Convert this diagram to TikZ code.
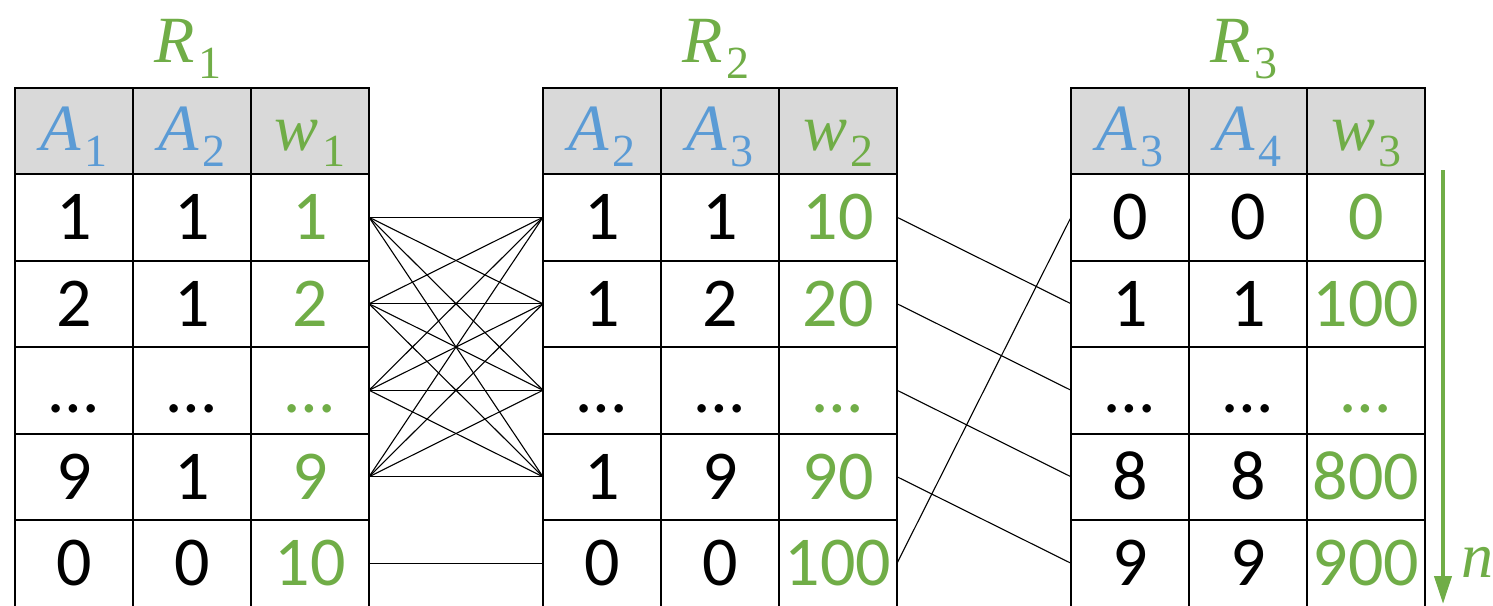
\documentclass[tikz,border=0pt]{standalone}
\usepackage{fontspec}
\setmainfont{Carlito}
\newfontfamily\symfont{Liberation Serif}
\usetikzlibrary{arrows.meta}
\definecolor{attrblue}{HTML}{5B9BD5}
\definecolor{wgreen}{HTML}{70AD47}
\definecolor{headgray}{HTML}{D9D9D9}
% italic symbol with an upright subscript
\newcommand\symb[2]{{\fontsize{66}{66}\selectfont\symfont\itshape #1}\hspace{3pt}\raisebox{-16pt}{\fontsize{46}{46}\selectfont\symfont #2}}
\tikzset{
  cell/.style={draw, line width=2pt, minimum width=118pt, minimum height=86.5pt,
    inner sep=0pt, outer sep=0pt, text height=45pt, text depth=0pt,
    font=\fontsize{70}{70}\selectfont},
  headcell/.style={cell, fill=headgray, minimum height=86pt, text height=38pt},
  wcell/.style={cell, text=wgreen},
  title/.style={text=wgreen, anchor=base, inner sep=0pt},
  link/.style={line width=1.1pt},
  order/.style={wgreen, line width=4pt, -{Triangle[length=28pt,width=17pt]}}
}
\begin{document}
\begin{tikzpicture}[x=1pt, y=-1pt]
\useasboundingbox (0,0) rectangle (1493,605);
\clip (0,0) rectangle (1493,605);

% relation titles
\node[title] (R1) at (188,62) {\symb{R}{1}};
\node[title] (R2) at (716,62) {\symb{R}{2}};
\node[title] (R3) at (1244,62) {\symb{R}{3}};

% header rows
\node[headcell] (T1-0-1) at (74,131)   {\color{attrblue}\symb{A}{1}};
\node[headcell] (T1-0-2) at (192,131)  {\color{attrblue}\symb{A}{2}};
\node[headcell] (T1-0-3) at (310,131)  {\color{wgreen}\symb{w}{1}};
\node[headcell] (T2-0-1) at (602,131)  {\color{attrblue}\symb{A}{2}};
\node[headcell] (T2-0-2) at (720,131)  {\color{attrblue}\symb{A}{3}};
\node[headcell] (T2-0-3) at (838,131)  {\color{wgreen}\symb{w}{2}};
\node[headcell] (T3-0-1) at (1130,131) {\color{attrblue}\symb{A}{3}};
\node[headcell] (T3-0-2) at (1248,131) {\color{attrblue}\symb{A}{4}};
\node[headcell] (T3-0-3) at (1366,131) {\color{wgreen}\symb{w}{3}};

% data rows of R1
\foreach \r/\y/\a/\b/\w in {1/217.25/1/1/1, 2/303.75/2/1/2, 3/390.25/…/…/…, 4/476.75/9/1/9, 5/563.25/0/0/10}{
  \node[cell]  (T1-\r-1) at (74,\y)  {\a};
  \node[cell]  (T1-\r-2) at (192,\y) {\b};
  \node[wcell] (T1-\r-3) at (310,\y) {\w};
}
% data rows of R2
\foreach \r/\y/\a/\b/\w in {1/217.25/1/1/10, 2/303.75/1/2/20, 3/390.25/…/…/…, 4/476.75/1/9/90, 5/563.25/0/0/100}{
  \node[cell]  (T2-\r-1) at (602,\y) {\a};
  \node[cell]  (T2-\r-2) at (720,\y) {\b};
  \node[wcell] (T2-\r-3) at (838,\y) {\w};
}
% data rows of R3
\foreach \r/\y/\a/\b/\w in {1/217.25/0/0/0, 2/303.75/1/1/100, 3/390.25/…/…/…, 4/476.75/8/8/800, 5/563.25/9/9/900}{
  \node[cell]  (T3-\r-1) at (1130,\y) {\a};
  \node[cell]  (T3-\r-2) at (1248,\y) {\b};
  \node[wcell] (T3-\r-3) at (1366,\y) {\w};
}

% joins between R1 and R2
\foreach \i in {1,...,4}{
  \foreach \j in {1,...,4}{
    \draw[link] (T1-\i-3.east) -- (T2-\j-1.west);
  }
}
\draw[link] (T1-5-3.east) -- (T2-5-1.west);

% joins between R2 and R3
\foreach \i in {1,...,4}{
  \pgfmathtruncatemacro\j{\i+1}
  \draw[link] (T2-\i-3.east) -- (T3-\j-1.west);
}
\draw[link] (T2-5-3.east) -- (T3-1-1.west);

% ordering arrow
\coordinate (nTop) at (1443,170);
\coordinate (nEnd) at (1443,604);
\draw[order] (nTop) -- (nEnd);
\node[text=wgreen, anchor=base, inner sep=0pt, font=\fontsize{64}{64}\selectfont\symfont\itshape] (nlab) at (1477,577) {n};
\end{tikzpicture}
\end{document}
